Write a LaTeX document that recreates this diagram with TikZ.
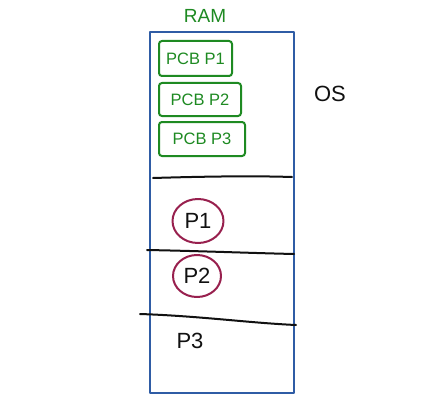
\documentclass[tikz,border=0pt]{standalone}
\usepackage{fontspec}
\setmainfont{Liberation Sans}
\usetikzlibrary{calc,positioning,shapes.geometric}

\begin{document}
\begin{tikzpicture}[x=1pt,y=-1pt,line cap=round,line join=round]
  \definecolor{ramblue}{HTML}{2F5CA5}
  \definecolor{pcbgreen}{HTML}{1E8A22}
  \definecolor{procred}{HTML}{98204E}
  \definecolor{ink}{HTML}{111111}
  \tikzset{
    pcbbox/.style={draw=pcbgreen,line width=2pt,rounded corners=3pt,
      text=pcbgreen,font=\fontsize{16.5}{17}\selectfont,anchor=north west,
      inner xsep=3pt,inner ysep=6pt},
    procring/.style={draw=procred,line width=2pt,ellipse,text=ink,
      font=\fontsize{22}{23}\selectfont,inner sep=0pt},
    divider/.style={ink,line width=2pt}
  }
  \useasboundingbox (0,0) rectangle (441,409);
  \fill[white] (0,0) rectangle (441,409);

  % RAM column
  \draw[ramblue,line width=1.8pt] (150,32) rectangle (294,393);
  \node[pcbgreen,font=\fontsize{19}{20}\selectfont] (ram) at (205,16) {RAM};
  \node[ink,font=\fontsize{22}{23}\selectfont] (os) at (330,94) {OS};

  % PCB blocks (OS part)
  \node[pcbbox,minimum width=73pt,minimum height=35pt] (pcb1) at (158,40) {PCB P1};
  \node[pcbbox,minimum width=82pt,minimum height=33pt] (pcb2) at (158,82) {PCB P2};
  \node[pcbbox,minimum width=86pt,minimum height=34pt] (pcb3) at (158,121) {PCB P3};

  % partitions
  \draw[divider] (153,178) .. controls (220,176) and (260,176) .. (292,177);
  \draw[divider] (147,250) .. controls (200,251) and (250,253) .. (294,254);
  \draw[divider] (140,314) .. controls (200,316) and (250,323) .. (296,325);

  % processes
  \node[procring,minimum width=51pt,minimum height=44pt] (p1) at (198,221) {P1};
  \node[procring,minimum width=48pt,minimum height=42pt] (p2) at (197,276) {P2};
  \node[ink,font=\fontsize{22}{23}\selectfont] (p3) at (190,341) {P3};
\end{tikzpicture}
\end{document}
